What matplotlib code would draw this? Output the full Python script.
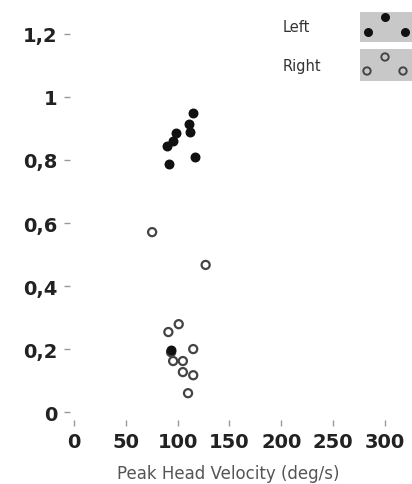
import matplotlib
matplotlib.use('Agg')
import matplotlib.pyplot as plt
from matplotlib.patches import Rectangle

# peak head velocity (deg/s) vs gain, left and right head impulses
left_x = [115, 111, 112, 98.5, 95.6, 89.8, 91.7, 116.8, 93.6]
left_y = [0.949, 0.914, 0.889, 0.886, 0.860, 0.844, 0.787, 0.810, 0.197]

right_x = [75.3, 127, 101, 91, 93.6, 115, 95.6, 105, 105, 115, 110]
right_y = [0.571, 0.467, 0.279, 0.254, 0.19, 0.20, 0.162, 0.162, 0.127, 0.117, 0.06]

x_ticks = [0, 50, 100, 150, 200, 250, 300]
y_ticks = [0, 0.2, 0.4, 0.6, 0.8, 1.0, 1.2]
y_tick_labels = ['0', '0,2', '0,4', '0,6', '0,8', '1', '1,2']

fig = plt.figure(figsize=(4.12, 4.85), dpi=100)
ax = fig.add_axes([0.170, 0.132, 0.814, 0.861])

ax.scatter(right_x, right_y, s=34, facecolors='none', edgecolors='#444444',
           linewidths=1.6, zorder=2)
ax.scatter(left_x, left_y, s=38, color='#111111', zorder=3)

ax.set_xlim(-4, 320)
ax.set_ylim(-0.025, 1.3)
ax.set_xticks(x_ticks)
ax.set_xticklabels([str(v) for v in x_ticks])
ax.set_yticks(y_ticks)
ax.set_yticklabels(y_tick_labels)
for side in ['top', 'right', 'bottom', 'left']:
    ax.spines[side].set_visible(False)
ax.tick_params(axis='both', colors='#999999', labelcolor='#222222',
               labelsize=14, length=4, width=1)
ax.tick_params(axis='x', pad=5)
ax.tick_params(axis='y', pad=5)
for lab in ax.get_xticklabels() + ax.get_yticklabels():
    lab.set_fontweight('bold')
ax.set_xlabel('Peak Head Velocity (deg/s)', fontsize=12, color='#555555')
ax.xaxis.set_label_coords((228 - 70) / 335.5, -0.105)

# legend swatches at top right (cut by the figure edge)
W, H = 412, 485
lax = fig.add_axes([0, 0, 1, 1], facecolor='none', zorder=5)
lax.set_xlim(0, W)
lax.set_ylim(H, 0)
lax.axis('off')
lax.text(283, 28, 'Left', fontsize=10.5, color='#333333', va='center')
lax.text(283, 67, 'Right', fontsize=10.5, color='#333333', va='center')
for top, bot in [(13, 43), (50, 82)]:
    lax.add_patch(Rectangle((360, top), 60, bot - top, facecolor='#c8c8c8',
                            edgecolor='none', zorder=1))
lax.scatter([368, 385, 405], [33, 18, 33], s=30, color='#111111', zorder=2)
lax.scatter([367, 385, 403], [72, 58, 72], s=28, facecolors='none',
            edgecolors='#444444', linewidths=1.4, zorder=2)

fig.savefig('out.png', dpi=100)
